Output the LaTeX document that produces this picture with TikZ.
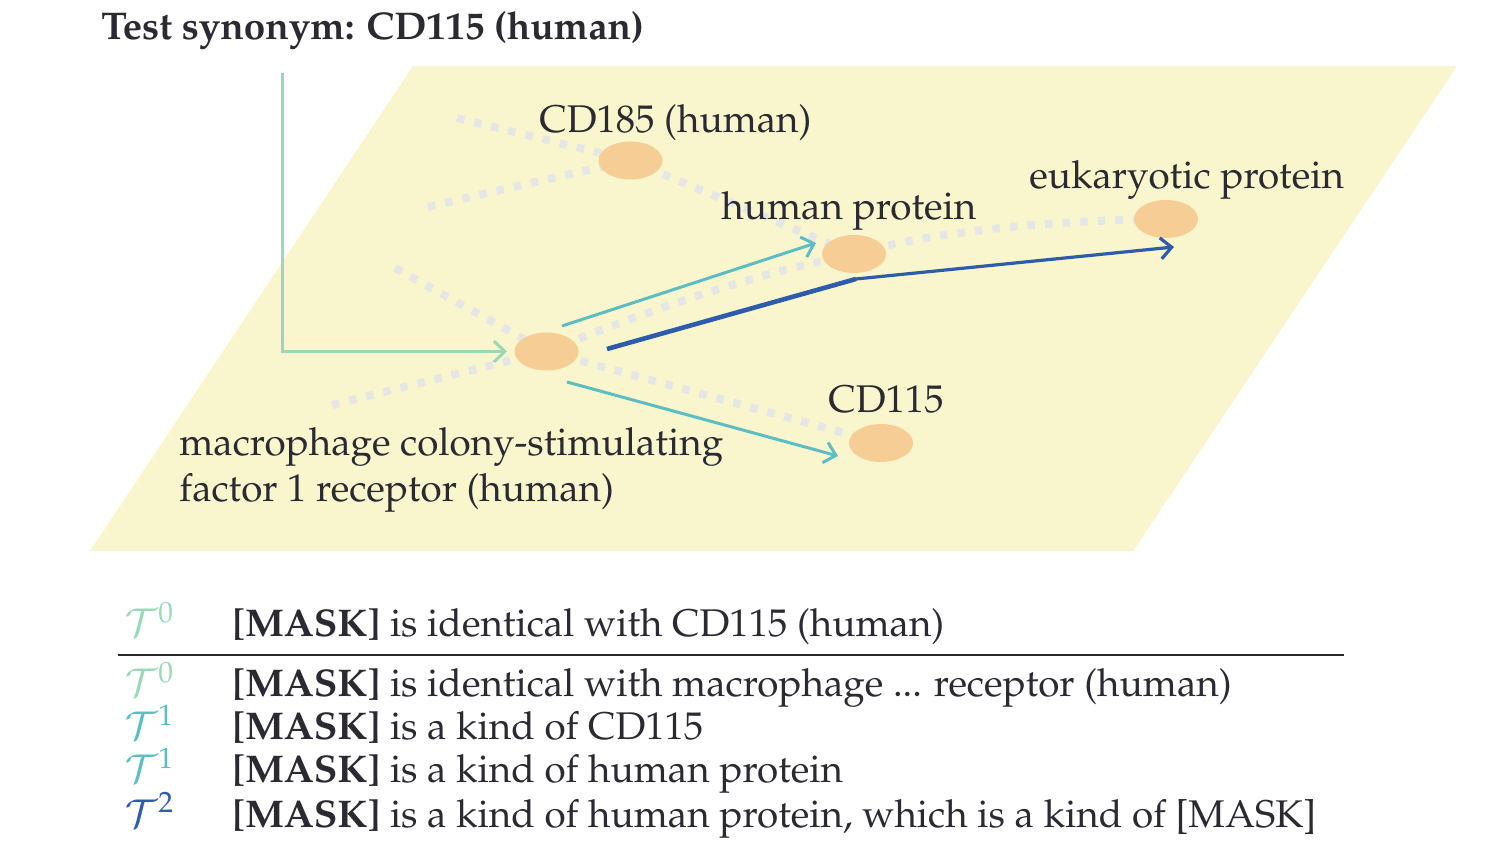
\documentclass[tikz,border=0pt]{standalone}
\usepackage[T1]{fontenc}
\usepackage{mathpazo}
\usetikzlibrary{shapes.geometric,arrows.meta}
\definecolor{plane}{RGB}{249,246,205}
\definecolor{blob}{RGB}{247,205,150}
\definecolor{dotgray}{RGB}{230,230,230}
\definecolor{tealc}{RGB}{93,189,196}
\definecolor{greenc}{RGB}{154,216,183}
\definecolor{bluec}{RGB}{46,92,172}
\definecolor{ink}{RGB}{43,42,51}
\begin{document}
\begin{tikzpicture}[x=0.5pt,y=-0.5pt,
  blobnode/.style={ellipse,fill=blob,minimum width=32pt,minimum height=19pt,inner sep=0pt},
  lbl/.style={anchor=base west,inner sep=0pt,text=ink,font=\fontsize{19.3}{23.2}\selectfont},
  dotline/.style={draw=dotgray,line width=4pt,dash pattern=on 3.8pt off 5pt},
  barbtip/.style={-{Straight Barb[length=5.5pt,width=10.5pt]}},
  greenarrow/.style={draw=greenc,line width=1.5pt,barbtip},
  tealarrow/.style={draw=tealc,line width=1.5pt,barbtip},
  bluethick/.style={draw=bluec,line width=2.3pt},
  bluearrow/.style={draw=bluec,line width=1.6pt,barbtip}]
\useasboundingbox (0,0) rectangle (1504,854);
% plane
\fill[plane] (90,551) -- (1133,551) -- (1457,66) -- (413,66) -- cycle;
% free ends
\coordinate (d1) at (457,118);
\coordinate (d2) at (428,207);
\coordinate (d3) at (395,268);
\coordinate (d4) at (332,405);
\coordinate (g0) at (282,73);
\coordinate (g1) at (282,351.5);
\coordinate (gt) at (507,351.5);
\coordinate (t1s) at (562,326);
\coordinate (t1e) at (816,243);
\coordinate (t2s) at (567,382);
\coordinate (t2e) at (838,456);
\coordinate (b0) at (607,349);
\coordinate (b1) at (856,279);
\coordinate (b2) at (1174,247);
% node positions
\coordinate (pcd185) at (630.5,160.5);
\coordinate (php) at (854,254);
\coordinate (peuk) at (1166,219);
\coordinate (pmcsf) at (546.5,351.5);
\coordinate (pcd115) at (881,443);
% dotted relations (behind nodes)
\path[dotline] (d1) -- (pcd185);
\path[dotline] (d2) .. controls (500,190) .. (pcd185);
\path[dotline] (pcd185) -- (php);
\path[dotline] (d3) -- (pmcsf);
\path[dotline] (d4) -- (pmcsf);
\path[dotline] (pmcsf) .. controls (664,304) and (767,271) .. (php);
\path[dotline] (php) .. controls (920,235) and (1025,221) .. (peuk);
\path[dotline] (pmcsf) -- (pcd115);
% nodes
\node[blobnode] (cd185) at (pcd185) {};
\node[blobnode] (hp) at (php) {};
\node[blobnode] (euk) at (peuk) {};
\node[blobnode] (mcsf) at (pmcsf) {};
\node[blobnode] (cd115) at (pcd115) {};
% arrows
\draw[greenarrow] (g0) -- (g1) -- (gt);
\draw[tealarrow] (t1s) -- (t1e);
\draw[tealarrow] (t2s) -- (t2e);
\draw[bluethick] (b0) -- (b1);
\draw[bluearrow] (b1) -- (b2);
% labels
\node[lbl,font=\fontsize{19.3}{23.2}\selectfont\bfseries] (title) at (101,40) {Test synonym: CD115 (human)};
\node[lbl] (l185) at (539,133) {CD185 (human)};
\node[lbl] (lhp) at (721,220) {human protein};
\node[lbl] (leuk) at (1029,189) {eukaryotic protein};
\node[lbl] (l115) at (828,413) {CD115};
\node[lbl] (lm1) at (179,456) {macrophage colony-stimulating};
\node[lbl] (lm2) at (179,502) {factor 1 receptor (human)};
% table
\node[lbl] (r1t) at (125,637) {\color{greenc}$\mathcal{T}^0$};
\node[lbl] (r1) at (232,637) {\textbf{[MASK]} is identical with CD115 (human)};
\coordinate (rule0) at (118,655);
\coordinate (rule1) at (1344,655);
\draw[ink,line width=1pt] (rule0) -- (rule1);
\node[lbl] (r2t) at (125,697) {\color{greenc}$\mathcal{T}^0$};
\node[lbl] (r2) at (232,697) {\textbf{[MASK]} is identical with macrophage ... receptor (human)};
\node[lbl] (r3t) at (125,740) {\color{tealc}$\mathcal{T}^1$};
\node[lbl] (r3) at (232,740) {\textbf{[MASK]} is a kind of CD115};
\node[lbl] (r4t) at (125,783) {\color{tealc}$\mathcal{T}^1$};
\node[lbl] (r4) at (232,783) {\textbf{[MASK]} is a kind of human protein};
\node[lbl] (r5t) at (125,827) {\color{bluec}$\mathcal{T}^2$};
\node[lbl] (r5) at (232,827) {\textbf{[MASK]} is a kind of human protein, which is a kind of [MASK]};
\end{tikzpicture}
\end{document}
